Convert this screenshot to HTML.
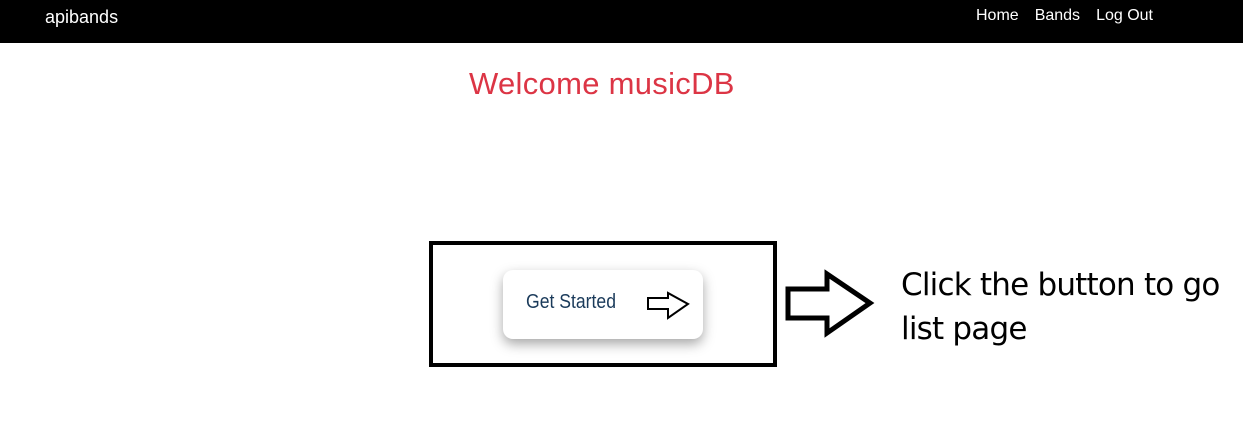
<!DOCTYPE html>
<html><head><meta charset="utf-8"><style>
body{margin:0;width:1243px;height:447px;background:#fff;position:relative;overflow:hidden;font-family:"Liberation Sans",sans-serif}
.nav{position:absolute;left:0;top:0;width:1243px;height:43px;background:#000}
.brand{position:absolute;left:45px;top:7px;color:#fff;font-size:18px}
.links{position:absolute;left:976px;top:7px;color:#fff;font-size:16px}
.links span{margin-right:16px}
h1{position:absolute;margin:0;left:469px;top:66px;font-weight:normal;font-size:31px;color:#dc3545;letter-spacing:0.3px}
.box{position:absolute;left:429px;top:241px;width:340px;height:118px;border:4px solid #000}
.btn{position:absolute;left:503px;top:270px;width:200px;height:69px;border-radius:10px;background:#fff;box-shadow:0 5px 12px rgba(0,0,0,.35)}
.btn .t{position:absolute;left:23px;top:21px;font-size:20px;color:#1a3a5a;font-family:"Liberation Sans Narrow","Liberation Sans",sans-serif;transform:scaleX(.88);transform-origin:left}
.note{position:absolute;left:901px;top:263px;font-size:31px;line-height:44px;color:#000;font-family:"DejaVu Sans","Liberation Sans",sans-serif;letter-spacing:-0.8px}
</style></head><body>
<div class="nav"><div class="brand">apibands</div><div class="links"><span>Home</span><span>Bands</span><span>Log Out</span></div></div>
<h1>Welcome musicDB</h1>
<div class="box"></div>
<div class="btn"><div class="t">Get Started</div></div>
<svg width="1243" height="447" style="position:absolute;left:0;top:0">
<polygon points="648,298 668,298 668,293 688,304 668,318 668,309 648,309" fill="#fff" stroke="#000" stroke-width="2"/>
<polygon points="788,289 827,289 827,274 870,303 827,333 827,318 788,318" fill="#fff" stroke="#000" stroke-width="5" stroke-linejoin="miter"/>
</svg>
<div class="note">Click the button to go<br>list page</div>
</body></html>
